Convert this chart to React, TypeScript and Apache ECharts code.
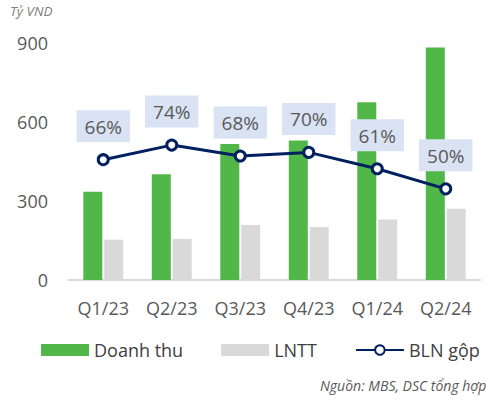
import React, { useEffect, useRef } from "react";
import * as echarts from "echarts";

const categories = ["Q1/23", "Q2/23", "Q3/23", "Q4/23", "Q1/24", "Q2/24"];
const revenue = [335, 402, 516, 530, 675, 883];
const profitBeforeTax = [153, 156, 209, 201, 230, 271];
const grossMargin = [66, 74, 68, 70, 61, 50];
const yTicks = [0, 300, 600, 900];

const FONT = "'Open Sans', 'Noto Sans', sans-serif";

export default function App() {
  const ref = useRef<HTMLDivElement>(null);
  useEffect(() => {
    document.body.style.margin = "0";
    const chart = echarts.init(ref.current!, null, { renderer: "svg" });
    chart.setOption({
      animation: false,
      textStyle: { fontFamily: FONT },
      grid: { left: 69, right: 6, top: 43, bottom: 120 },
      graphic: [
        {
          type: "text",
          left: 10,
          top: 4,
          style: {
            text: "Tỷ VND",
            font: `italic 13.5px ${FONT}`,
            fill: "#808080",
          },
        },
        {
          type: "text",
          left: 320,
          top: 378,
          style: {
            text: "Nguồn: MBS, DSC tổng hợp",
            font: `italic 14px ${FONT}`,
            fill: "#595959",
          },
        },
      ],
      legend: {
        left: 36,
        top: 336,
        itemWidth: 48,
        itemHeight: 12,
        itemGap: 38,
        textStyle: { fontSize: 18, color: "#404040", fontFamily: FONT },
        data: [
          { name: "Doanh thu", icon: "rect" },
          { name: "LNTT", icon: "rect" },
          { name: "BLN gộp" },
        ],
      },
      xAxis: {
        type: "category",
        data: categories,
        axisLine: { lineStyle: { color: "#D9D9D9", width: 2 } },
        axisTick: { show: false },
        axisLabel: { fontSize: 18, color: "#595959", margin: 19, fontFamily: FONT },
      },
      yAxis: [
        {
          type: "value",
          min: yTicks[0],
          max: yTicks[yTicks.length - 1],
          interval: 300,
          splitLine: { show: false },
          axisLine: { show: false },
          axisTick: { show: false },
          axisLabel: { fontSize: 18, color: "#595959", margin: 21, fontFamily: FONT },
        },
        {
          type: "value",
          min: 0,
          max: 130,
          show: false,
          splitLine: { show: false },
        },
      ],
      series: [
        {
          name: "Doanh thu",
          type: "bar",
          data: revenue,
          barWidth: 19,
          barGap: "10%",
          itemStyle: { color: "#50B748" },
        },
        {
          name: "LNTT",
          type: "bar",
          data: profitBeforeTax,
          barWidth: 19,
          itemStyle: { color: "#D9D9D9" },
        },
        {
          name: "BLN gộp",
          type: "line",
          yAxisIndex: 1,
          data: grossMargin,
          symbol: "circle",
          symbolSize: 10,
          lineStyle: { color: "#002060", width: 3 },
          itemStyle: { color: "#FFFFFF", borderColor: "#002060", borderWidth: 3 },
          label: {
            show: true,
            position: "top",
            distance: 11,
            formatter: "{c}%",
            fontSize: 19,
            color: "#595959",
            fontFamily: FONT,
            backgroundColor: "#DAE3F3",
            padding: [7, 8, 6, 8],
          },
          z: 5,
        },
      ],
    });
    return () => chart.dispose();
  }, []);
  return <div ref={ref} style={{ width: 486, height: 400 }} />;
}
